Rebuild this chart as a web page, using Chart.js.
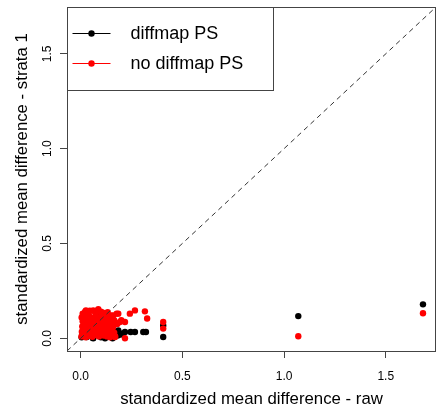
<!DOCTYPE html>
<html>
<head>
<meta charset="utf-8">
<script src="https://cdn.jsdelivr.net/npm/chart.js@4.4.1/dist/chart.umd.min.js"></script>
<style>
  html, body { margin: 0; padding: 0; background: #fff; }
  canvas { display: block; }
</style>
</head>
<body>
<canvas id="chart-smd" width="436" height="408"></canvas>
<script>
  /* ================= DATA ================= */

  const axisMin = -0.067;
  const axisMax = 1.747;
  const tickValues = [0, 0.5, 1, 1.5];

  const seriesNames = ["diffmap PS", "no diffmap PS"];

  // diffmap PS : x = raw SMD, y = strata 1 SMD
  const diffmapRaw = [
    0.005, 0.010, 0.020, 0.030, 0.040, 0.050, 0.060, 0.070, 0.080, 0.090,
    0.100, 0.110, 0.120, 0.125, 0.128, 0.144, 0.150, 0.160, 0.169, 0.175,
    0.180, 0.185, 0.185, 0.195, 0.205, 0.218, 0.246, 0.267, 0.308, 0.321,
    0.157, 0.062, 0.030, 0.110, 0.050, 0.090, 0.125, 0.406, 0.406, 1.070,
    1.683
  ];
  const diffmapStrata = [
    0.005, 0.030, 0.060, 0.015, 0.090, 0.040, 0.002, 0.025, 0.055, 0.115,
    0.005, 0.035, 0.000, 0.090, 0.110, 0.105, 0.010, 0.045, 0.077, 0.020,
    0.016, 0.042, 0.016, 0.025, 0.020, 0.033, 0.033, 0.033, 0.033, 0.033,
    0.000, 0.000, 0.007, 0.117, 0.095, 0.095, 0.068, 0.068, 0.007, 0.117,
    0.179
  ];

  // no diffmap PS
  const noDiffmapRaw = [
    0.004, 0.006, 0.008, 0.010, 0.012, 0.015, 0.018, 0.020, 0.022, 0.025,
    0.027, 0.030, 0.032, 0.035, 0.038, 0.040, 0.043, 0.046, 0.048, 0.050,
    0.053, 0.055, 0.058, 0.060, 0.062, 0.065, 0.068, 0.070, 0.073, 0.075,
    0.078, 0.080, 0.083, 0.085, 0.087, 0.090, 0.092, 0.095, 0.098, 0.100,
    0.103, 0.106, 0.110, 0.113, 0.116, 0.120, 0.124, 0.128, 0.132, 0.136,
    0.140, 0.145, 0.150, 0.155, 0.160, 0.165, 0.170, 0.177, 0.180, 0.185,
    0.026, 0.083, 0.133, 0.149, 0.169, 0.150, 0.160, 0.165, 0.140, 0.130,
    0.120, 0.110, 0.155, 0.145, 0.100, 0.070, 0.045, 0.010, 0.005, 0.135,
    0.115, 0.193, 0.200, 0.218, 0.218, 0.242, 0.267, 0.316, 0.327, 0.406,
    0.406, 1.070, 1.683
  ];
  const noDiffmapStrata = [
    0.010, 0.035, 0.062, 0.090, 0.020, 0.118, 0.048, 0.075, 0.140, 0.005,
    0.100, 0.030, 0.060, 0.085, 0.012, 0.125, 0.045, 0.070, 0.095, 0.022,
    0.110, 0.055, 0.008, 0.080, 0.147, 0.035, 0.065, 0.100, 0.018, 0.120,
    0.050, 0.088, 0.030, 0.070, 0.153, 0.010, 0.105, 0.045, 0.078, 0.025,
    0.125, 0.060, 0.090, 0.015, 0.040, 0.072, 0.108, 0.030, 0.055, 0.112,
    0.085, 0.020, 0.065, 0.040, 0.120, 0.095, 0.010, 0.130, 0.075, 0.130,
    0.147, 0.147, 0.138, 0.121, 0.007, 0.100, 0.060, 0.030, 0.050, 0.010,
    0.125, 0.135, 0.080, 0.005, 0.140, 0.140, 0.145, 0.130, 0.110, 0.090,
    0.100, 0.086, 0.095, 0.086, 0.000, 0.130, 0.147, 0.142, 0.104, 0.086,
    0.051, 0.011, 0.132
  ];

  /* ================= HELPERS ================= */

  const toPoints = (xs, ys) => xs.map((x, i) => ({ x: x, y: ys[i] }));

  const FONT = "'Liberation Sans', Arial, Helvetica, sans-serif";
  const BOX_COLOR = "#444";

  const noScalePadding = (s) => {
    s.paddingTop = 0;
    s.paddingBottom = 0;
    s.paddingLeft = 0;
    s.paddingRight = 0;
  };

  /* ========== box + legend (R style) ========== */

  const boxLegendPlugin = {
    id: "boxLegend",
    afterDraw(chart) {
      const { ctx, chartArea: area } = chart;
      ctx.save();
      ctx.strokeStyle = BOX_COLOR;
      ctx.lineWidth = 1;
      ctx.strokeRect(area.left + 0.5, area.top + 0.5, area.right - area.left - 1, area.bottom - area.top);

      // legend box in the top left corner
      const lx = area.left + 0.5, ly = area.top + 0.5, lw = 206, lh = 83;
      ctx.fillStyle = "#fff";
      ctx.fillRect(lx, ly, lw, lh);
      ctx.strokeRect(lx, ly, lw, lh);

      const colors = ["#000000", "#ff0000"];
      seriesNames.forEach((name, i) => {
        const y = ly + 26 + i * 30;
        ctx.strokeStyle = colors[i];
        ctx.beginPath();
        ctx.moveTo(lx + 5, y);
        ctx.lineTo(lx + 43, y);
        ctx.stroke();
        ctx.fillStyle = colors[i];
        ctx.beginPath();
        ctx.arc(lx + 24, y, 3.2, 0, Math.PI * 2);
        ctx.fill();
        ctx.fillStyle = "#000";
        ctx.font = "18px " + FONT;
        ctx.textBaseline = "middle";
        ctx.textAlign = "left";
        ctx.fillText(name, lx + 63, y + 1);
      });
      ctx.restore();
    }
  };

  /* ================= CHART ================= */

  const axisCommon = (titleText) => ({
    type: "linear",
    min: axisMin,
    max: axisMax,
    afterBuildTicks: (scale) => { scale.ticks = tickValues.map(v => ({ value: v })); },
    grid: { drawOnChartArea: false, drawTicks: true, tickLength: 7, color: BOX_COLOR },
    border: { display: false },
    ticks: {
      color: "#000",
      font: { size: 12, family: FONT },
      callback: (v) => Number(v).toFixed(1)
    },
    title: {
      display: true,
      text: titleText,
      color: "#000",
      font: { size: 16.8, family: FONT, lineHeight: 1 }
    }
  });

  const xScale = axisCommon("standardized mean difference - raw");
  xScale.ticks.padding = 11;
  xScale.ticks.maxRotation = 0;
  xScale.title.padding = { top: 0, bottom: 0 };
  xScale.afterFit = (s) => { s.height = 57; noScalePadding(s); };

  const yScale = axisCommon("standardized mean difference - strata 1");
  yScale.ticks.minRotation = 90;
  yScale.ticks.maxRotation = 90;
  yScale.ticks.crossAlign = "center";
  yScale.ticks.padding = 4;
  yScale.title.padding = { top: 14, bottom: 0 };
  yScale.afterFit = (s) => { s.width = 67; noScalePadding(s); };

  const chart = new Chart(document.getElementById("chart-smd").getContext("2d"), {
    type: "scatter",
    data: {
      datasets: [
        {
          label: "diagonal",
          type: "line",
          data: [{ x: axisMin, y: axisMin }, { x: axisMax, y: axisMax }],
          borderColor: "#333",
          borderWidth: 1,
          borderDash: [5, 4],
          pointRadius: 0,
          fill: false,
          order: 0
        },
        {
          label: seriesNames[1],
          data: toPoints(noDiffmapRaw, noDiffmapStrata),
          backgroundColor: "#ff0000",
          borderColor: "#ff0000",
          borderWidth: 0,
          pointRadius: 3.2,
          order: 1
        },
        {
          label: seriesNames[0],
          data: toPoints(diffmapRaw, diffmapStrata),
          backgroundColor: "#000000",
          borderColor: "#000000",
          borderWidth: 0,
          pointRadius: 3.2,
          order: 2
        }
      ]
    },
    options: {
      responsive: false,
      animation: false,
      layout: { autoPadding: false, padding: { top: 7, right: 0, bottom: 0, left: 0 } },
      plugins: {
        legend: { display: false },
        tooltip: { enabled: false }
      },
      scales: { x: xScale, y: yScale }
    },
    plugins: [boxLegendPlugin]
  });
</script>
</body>
</html>
